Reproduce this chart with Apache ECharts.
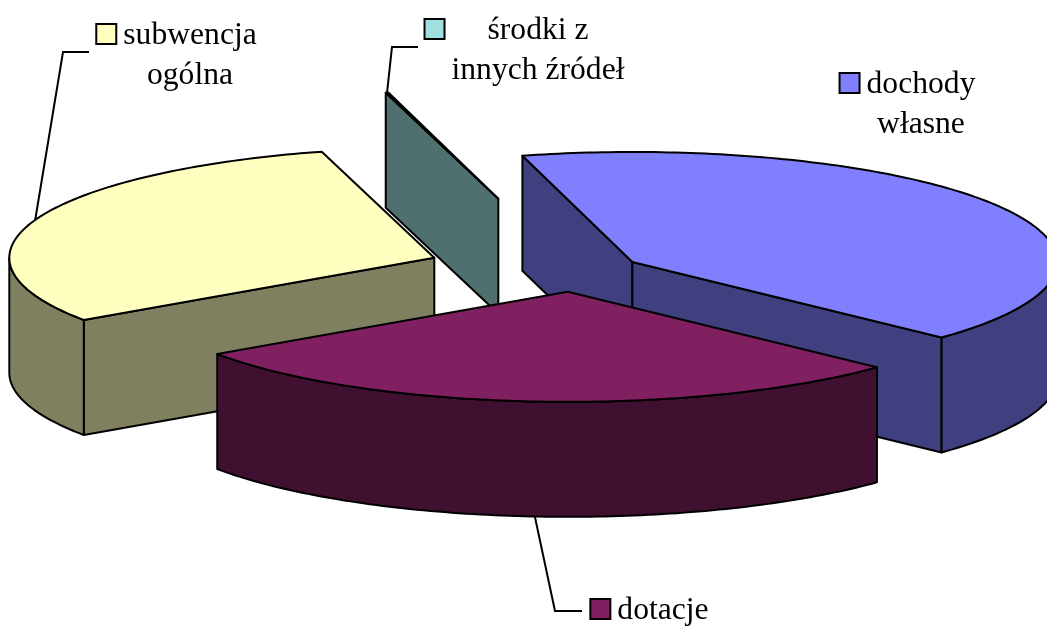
<!DOCTYPE html>
<html>
<head>
<meta charset="utf-8">
<title>Struktura dochodów</title>
<script src="https://cdn.jsdelivr.net/npm/echarts@6/dist/echarts.min.js"></script>
<style>
  html, body { margin: 0; padding: 0; background: #fff; }
  #chart { width: 1047px; height: 626px; }
</style>
</head>
<body>
<div id="chart"></div>
<script>
// dane wykresu (udział w %)
const categories = ["dochody własne", "dotacje", "subwencja ogólna", "środki z innych źródeł"];
const values = [41.2, 28.4, 30.3, 0.1];
// opisy (podział na wiersze)
const labelLines = [["dochody", "własne"], ["dotacje"], ["subwencja", "ogólna"], ["środki z", "innych źródeł"]];

// kolory: wierzch i boki (boki = połowa jasności)
const topColors = ["#8080FF", "#802060", "#FFFFC0", "#A0E0E0"];
const sideColors = ["#404080", "#401030", "#808060", "#507070"];
// wysunięcie wycinków (ułamek promienia)
const explode = [0.16, 0.19, 0.35, 0.68];
const startAngle = -15;

// geometria "3D" – elipsa i grubość
const pie = { cx: 574, cy: 271, rx: 425, ry: 110, depth: 115 };

// położenie opisów i linii odniesienia
const labelLayout = [
  { x: 921, y: 83, leader: null },
  { x: 663, y: 609, leader: [[582, 611], [555, 611]], anchor: "bottom" },
  { x: 190, y: 34, leader: [[89, 52], [63, 52]], anchor: "top" },
  { x: 538, y: 29, leader: [[418, 47], [392, 47]], anchor: "top" }
];

const FONT = '31px "Liberation Serif", "Times New Roman", serif';
const TEXT_SCALE = 1.02;
const LINE_GAP = 40;
const TEXT_DY = 2;

const rad = d => d * Math.PI / 180;
const total = values.reduce((s, v) => s + v, 0);

// kąty wycinków (zgodnie z ruchem wskazówek, od godz. 12)
const slices = [];
let acc = startAngle;
values.forEach((v, i) => {
  const a1 = acc;
  const a2 = acc + v / total * 360;
  acc = a2;
  const mid = (a1 + a2) / 2;
  const ou = explode[i] * Math.sin(rad(mid));
  const ov = -explode[i] * Math.cos(rad(mid));
  slices.push({ a1, a2, mid, ou, ov });
});

// kolejność rysowania – od tyłu do przodu (środek ciężkości wycinka)
const depthOrder = slices
  .map((s, i) => {
    const span = rad(s.a2 - s.a1);
    const k = span > 0 ? 4 * Math.sin(span / 2) / (3 * span) : 0.66;
    return { i, v: s.ov - Math.cos(rad(s.mid)) * k };
  })
  .sort((p, q) => p.v - q.v)
  .map(p => p.i);

const proj = (u, v, h) => [pie.cx + pie.rx * u, pie.cy + pie.ry * v + pie.depth * h];

const rimPoint = (s, deg, h) => proj(s.ou + Math.sin(rad(deg)), s.ov - Math.cos(rad(deg)), h);

const arc = (s, from, to, h) => {
  const pts = [];
  const n = Math.max(2, Math.ceil(Math.abs(to - from)));
  for (let k = 0; k <= n; k++) {
    pts.push(rimPoint(s, from + (to - from) * k / n, h));
  }
  return pts;
};

// szerokość tekstu
const measureCtx = document.createElement("canvas").getContext("2d");
measureCtx.font = FONT;
const textWidth = t => measureCtx.measureText(t).width * TEXT_SCALE;

const renderItem = (params, api) => {
  const i = params.dataIndex;
  const s = slices[i];
  const base = depthOrder.indexOf(i) * 10;
  const lineStyle = { stroke: "#000", lineWidth: 2, lineJoin: "round" };
  const children = [];
  const center0 = proj(s.ou, s.ov, 0);
  const center1 = proj(s.ou, s.ov, 1);

  // boczna ściana przy kącie początkowym
  if (Math.sin(rad(s.a1)) < -1e-6) {
    children.push({
      type: "polygon",
      z2: base + 1,
      shape: { points: [center0, rimPoint(s, s.a1, 0), rimPoint(s, s.a1, 1), center1] },
      style: Object.assign({ fill: sideColors[i] }, lineStyle)
    });
  }
  // boczna ściana przy kącie końcowym
  if (Math.sin(rad(s.a2)) > 1e-6) {
    children.push({
      type: "polygon",
      z2: base + 1,
      shape: { points: [center0, rimPoint(s, s.a2, 0), rimPoint(s, s.a2, 1), center1] },
      style: Object.assign({ fill: sideColors[i] }, lineStyle)
    });
  }
  // zewnętrzna ściana (tylko przednia połowa)
  let a1 = s.a1, a2 = s.a2;
  if (a1 < 0) { a1 += 360; a2 += 360; }
  [[90, 270], [450, 630]].forEach(([f1, f2]) => {
    const from = Math.max(a1, f1);
    const to = Math.min(a2, f2);
    if (to - from > 0.01) {
      const pts = arc(s, from, to, 0).concat(arc(s, to, from, 1));
      children.push({
        type: "polygon",
        z2: base + 1,
        shape: { points: pts },
        style: Object.assign({ fill: sideColors[i] }, lineStyle)
      });
    }
  });
  // wierzch wycinka
  children.push({
    type: "polygon",
    z2: base + 2,
    shape: { points: [center0].concat(arc(s, s.a1, s.a2, 0)) },
    style: Object.assign({ fill: topColors[i] }, lineStyle)
  });

  // opis z kwadratem legendy
  const lay = labelLayout[i];
  const lines = labelLines[i];
  const widest = Math.max.apply(null, lines.map(textWidth));
  const left = lay.x - widest / 2;
  lines.forEach((t, k) => {
    children.push({
      type: "text",
      z2: 200,
      x: lay.x,
      y: lay.y + TEXT_DY + k * LINE_GAP,
      scaleX: TEXT_SCALE,
      style: { text: t, font: FONT, fill: "#000", align: "center", verticalAlign: "middle" }
    });
  });
  children.push({
    type: "rect",
    z2: 200,
    shape: { x: left - 7 - 20, y: lay.y - 10, width: 20, height: 20 },
    style: { fill: topColors[i], stroke: "#000", lineWidth: 2 }
  });
  // linia odniesienia
  if (lay.leader) {
    const anchor = rimPoint(s, s.mid, lay.anchor === "bottom" ? 1 : 0);
    children.push({
      type: "polyline",
      z2: 199,
      shape: { points: lay.leader.concat([anchor]) },
      style: { stroke: "#000", lineWidth: 2, fill: null }
    });
  }

  return { type: "group", children };
};

const chart = echarts.init(document.getElementById("chart"));
chart.setOption({
  backgroundColor: "#fff",
  animation: false,
  series: [
    {
      type: "custom",
      coordinateSystem: "none",
      renderItem,
      data: values.map((v, i) => ({ name: categories[i], value: v }))
    }
  ]
});
window.addEventListener("resize", () => chart.resize());
</script>
</body>
</html>
